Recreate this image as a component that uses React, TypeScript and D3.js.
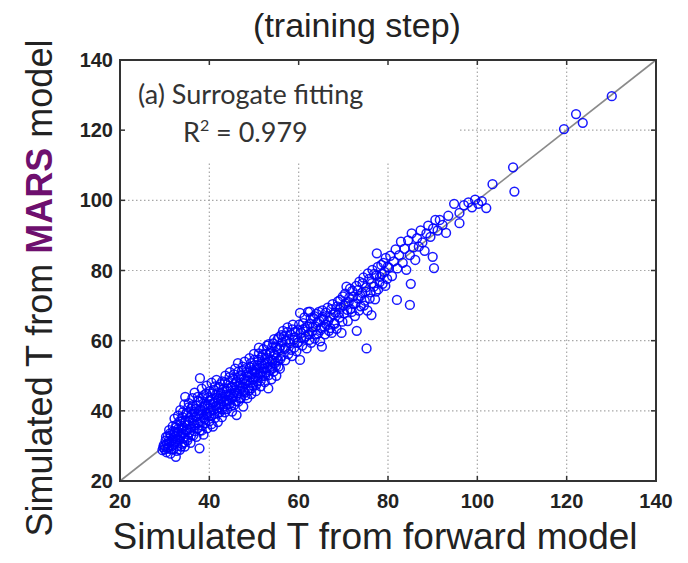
import React from "react";
import * as d3 from "d3";

// Axis ticks (same for both axes)
const tickValues = [20, 40, 60, 80, 100, 120, 140];
const gridValues = [40, 60, 80, 100, 120];

// Forward-model T vs. MARS-predicted T, dense low-temperature core
const coreSamples: [number, number][] = [
  [29.5, 28.8], [29.8, 30.2], [30.0, 29.0], [30.2, 31.5], [30.4, 28.2], [30.5, 30.6], [30.7, 32.8], [30.8, 29.6],
  [31.0, 34.5], [31.1, 31.0], [31.3, 27.8], [31.4, 33.0], [31.6, 30.0], [31.8, 35.6], [31.9, 32.2], [32.0, 29.1],
  [32.2, 37.8], [32.3, 34.0], [32.4, 31.2], [32.5, 26.9], [32.6, 36.0], [32.8, 33.1], [32.9, 30.0], [33.0, 38.6],
  [33.1, 35.0], [33.3, 31.8], [33.4, 28.9], [33.5, 40.2], [33.6, 36.9], [33.8, 33.6], [33.9, 30.6], [34.0, 38.2],
  [34.1, 35.2], [34.3, 32.4], [34.4, 41.8], [34.5, 29.8], [34.6, 44.0], [34.7, 37.1], [34.8, 34.3], [35.0, 39.5],
  [35.1, 31.6], [35.2, 36.0], [35.4, 42.2], [35.5, 33.8], [35.6, 38.0], [35.8, 30.9], [35.9, 40.6], [36.0, 35.4],
  [36.2, 43.6], [36.3, 37.2], [36.4, 33.0], [36.6, 39.8], [36.7, 45.2], [36.8, 35.9], [37.0, 41.5], [37.1, 32.6],
  [37.2, 38.4], [37.4, 44.0], [37.5, 36.5], [37.6, 40.0], [37.8, 29.3], [37.9, 49.3], [37.9, 34.4], [38.0, 42.6],
  [38.2, 38.9], [38.3, 46.3], [38.4, 35.8], [38.6, 40.8], [38.7, 33.2], [38.8, 44.5], [39.0, 37.6], [39.1, 42.0],
  [39.3, 39.4], [39.4, 47.2], [39.5, 35.0], [39.7, 43.8], [39.8, 40.6], [40.0, 37.0], [40.1, 45.6], [40.2, 41.8],
  [40.4, 38.6], [40.5, 48.0], [40.6, 43.2], [40.8, 35.5], [40.9, 40.2], [41.0, 46.0], [41.2, 42.5], [41.3, 38.0],
  [41.5, 44.6], [41.6, 48.8], [41.7, 40.8], [41.9, 36.8], [42.0, 43.4], [42.2, 46.8], [42.3, 39.6], [42.5, 42.0],
  [42.6, 45.0], [42.8, 38.2], [42.9, 48.4], [43.0, 44.0], [43.2, 41.2], [43.3, 46.4], [43.5, 39.6], [43.6, 50.0],
  [43.8, 43.0], [43.9, 45.6], [44.0, 40.5], [44.2, 48.0], [44.3, 44.4], [44.5, 42.0], [44.6, 51.0], [44.8, 46.6],
  [45.0, 43.4], [45.1, 39.8], [45.2, 49.2], [45.4, 45.0], [45.5, 41.6], [45.7, 47.6], [45.8, 52.0], [46.0, 44.2],
  [46.1, 38.8], [46.2, 46.8], [46.4, 53.6], [46.5, 42.6], [46.6, 49.6], [46.8, 45.6], [47.0, 48.0], [47.1, 43.8],
  [47.3, 51.4], [47.4, 46.6], [47.6, 41.2], [47.7, 49.2], [47.9, 54.0], [48.0, 45.2], [48.2, 47.8], [48.3, 51.0],
  [48.5, 43.6], [48.6, 49.8], [48.8, 46.4], [49.0, 55.0], [49.1, 52.4], [49.3, 48.0], [49.4, 44.8], [49.6, 50.6],
  [49.8, 47.2], [50.0, 56.2], [50.1, 53.0], [50.3, 49.4], [50.4, 45.6], [50.6, 51.8], [50.8, 48.4], [51.0, 54.6],
  [51.1, 58.0], [51.3, 50.6], [51.5, 47.0], [51.6, 53.4], [51.8, 49.8], [52.0, 56.0], [52.2, 52.0], [52.4, 48.2],
  [52.5, 54.8], [52.7, 51.0], [52.9, 58.6], [53.0, 53.6], [53.2, 46.4], [53.3, 50.2], [53.5, 56.4], [53.7, 52.6],
  [53.9, 49.0], [54.0, 58.0], [54.2, 54.2], [54.4, 51.2], [54.5, 60.4], [54.7, 55.8], [54.9, 52.8], [55.0, 50.0],
  [55.2, 57.4], [55.4, 54.4], [55.6, 61.0], [55.8, 52.0], [56.0, 58.6], [56.2, 55.6],
];

// Second batch of runs in the same low-temperature range
const coreSamplesB: [number, number][] = [
  [29.7, 29.6], [30.1, 30.0], [30.3, 32.6], [30.6, 29.2], [30.9, 31.4], [31.2, 33.6], [31.5, 29.0], [31.7, 31.6],
  [31.9, 34.2], [32.1, 30.4], [32.3, 32.8], [32.5, 35.2], [32.7, 28.6], [32.9, 31.8], [33.1, 34.0], [33.3, 37.0],
  [33.5, 32.6], [33.7, 29.8], [33.9, 35.6], [34.1, 39.6], [34.2, 33.6], [34.4, 31.0], [34.6, 36.6], [34.8, 39.2],
  [35.0, 34.6], [35.2, 32.4], [35.3, 41.0], [35.5, 37.2], [35.7, 35.0], [35.9, 33.0], [36.1, 39.0], [36.3, 41.6],
  [36.5, 36.4], [36.7, 34.2], [36.9, 38.2], [37.1, 40.6], [37.3, 35.0], [37.5, 42.8], [37.7, 39.0], [37.9, 37.0],
  [38.1, 40.2], [38.3, 34.4], [38.5, 43.6], [38.7, 38.0], [38.9, 41.4], [39.1, 36.4], [39.3, 45.0], [39.5, 39.0],
  [39.7, 41.8], [39.9, 38.4], [40.1, 43.0], [40.3, 40.0], [40.5, 36.2], [40.7, 45.0], [40.9, 42.2], [41.1, 39.2],
  [41.3, 47.0], [41.5, 41.4], [41.7, 43.8], [41.9, 39.4], [42.1, 45.2], [42.3, 41.0], [42.5, 47.6], [42.7, 43.4],
  [42.9, 40.4], [43.1, 45.4], [43.3, 42.6], [43.5, 48.2], [43.7, 44.6], [43.9, 41.8], [44.1, 46.4], [44.3, 43.0],
  [44.5, 49.6], [44.7, 44.8], [44.9, 41.4], [45.1, 47.0], [45.3, 44.0], [45.5, 50.4], [45.7, 45.8], [45.9, 42.8],
  [46.1, 48.4], [46.3, 45.0], [46.5, 51.2], [46.7, 47.2], [46.9, 43.6], [47.1, 50.0], [47.3, 47.0], [47.5, 52.6],
  [47.7, 45.6], [47.9, 48.6], [48.1, 44.4], [48.3, 52.2], [48.5, 48.6], [48.7, 50.8], [48.9, 45.8], [49.1, 49.6],
  [49.3, 53.6], [49.5, 46.4], [49.7, 51.6], [49.9, 49.0], [50.1, 54.6], [50.3, 51.0], [50.5, 47.4], [50.7, 53.0],
  [50.9, 50.2], [51.1, 56.4], [51.3, 52.2], [51.5, 48.6], [51.7, 55.2], [51.9, 51.2], [52.1, 57.6], [52.3, 53.4],
  [52.5, 50.0], [52.7, 56.2], [52.9, 52.2], [53.1, 55.0], [53.3, 59.0], [53.5, 51.6], [53.7, 57.0], [53.9, 54.6],
  [54.1, 52.0], [54.3, 59.2], [54.5, 56.2], [54.7, 53.6], [54.9, 58.4], [55.1, 55.2], [55.3, 60.4], [55.5, 52.6],
  [55.7, 57.8], [55.9, 54.8], [56.1, 61.6],
];

// Middle range of the fit
const midSamples: [number, number][] = [
  [56.5, 62.8], [56.8, 57.6], [57.0, 54.4], [57.2, 60.0], [57.5, 63.8], [57.7, 56.2], [58.0, 59.2], [58.2, 61.8],
  [58.5, 55.6], [58.7, 64.6], [59.0, 58.0], [59.2, 61.0], [59.5, 57.0], [59.8, 63.0], [60.0, 59.6], [60.3, 54.5],
  [60.3, 67.9], [60.5, 62.2], [60.8, 58.6], [61.0, 65.0], [61.2, 60.6], [61.5, 63.6], [61.8, 57.8], [62.1, 68.2],
  [62.2, 61.8], [62.5, 68.3], [62.5, 64.8], [62.8, 59.4], [63.0, 62.6], [63.3, 66.4], [63.6, 60.6], [63.8, 64.0],
  [64.0, 67.6], [64.3, 62.0], [64.6, 65.6], [64.8, 59.8], [65.0, 63.6], [65.2, 58.3], [65.3, 68.6], [65.6, 66.0],
  [65.9, 61.8], [66.2, 64.6], [66.5, 69.4], [66.8, 62.8], [67.0, 66.6], [67.4, 62.2], [67.6, 70.4], [67.9, 65.0],
  [68.2, 68.0], [68.5, 63.4], [68.8, 71.2], [69.1, 66.6], [69.4, 69.4], [69.6, 62.2], [69.9, 72.6], [70.2, 67.8],
  [70.5, 70.6], [70.7, 75.4], [71.0, 65.6], [71.3, 72.2], [71.6, 69.0], [72.0, 74.2], [72.3, 70.4], [72.6, 67.0],
  [72.9, 75.6], [73.0, 62.8], [73.3, 72.0], [73.6, 76.8], [73.9, 69.8], [74.2, 73.6], [74.5, 78.0], [74.8, 71.4],
  [75.2, 57.8], [75.1, 75.2], [75.4, 68.6], [75.8, 77.6], [76.1, 73.8], [76.3, 67.3], [76.5, 80.2], [76.8, 75.4],
  [77.1, 71.8], [77.5, 84.9], [77.4, 78.6], [77.8, 74.6], [78.2, 78.2], [78.5, 81.6], [78.8, 76.2], [79.2, 79.6],
  [79.5, 83.6], [79.8, 77.6], [80.2, 80.8],
];

// Second batch in the middle range
const midSamplesB: [number, number][] = [
  [56.4, 59.6], [56.7, 61.2], [57.1, 58.0], [57.4, 62.4], [57.9, 60.4], [58.3, 57.4], [58.6, 63.2], [58.9, 60.2],
  [59.3, 62.6], [59.7, 59.4], [60.1, 64.6], [60.6, 60.8], [60.9, 63.2], [61.3, 66.6], [61.6, 61.2], [62.0, 64.0],
  [62.4, 60.2], [62.7, 66.4], [63.1, 63.8], [63.5, 67.0], [63.9, 61.8], [64.2, 65.2], [64.5, 68.2], [64.9, 63.0],
  [65.4, 66.8], [65.8, 64.0], [66.1, 68.0], [66.6, 65.6], [67.1, 63.6], [67.3, 69.0], [67.8, 67.4], [68.1, 64.8],
  [68.6, 69.8], [69.0, 68.0], [69.3, 71.6], [69.8, 65.4], [70.1, 70.0], [70.4, 73.4], [70.9, 68.8], [71.2, 71.0],
  [71.5, 74.8], [71.9, 68.2], [72.2, 72.6], [72.7, 70.6], [73.2, 74.4], [73.5, 68.6], [73.8, 72.8], [74.3, 76.4],
  [74.6, 70.0], [75.0, 74.0], [75.5, 79.2], [75.9, 72.0], [76.4, 76.4], [76.9, 79.0], [77.3, 74.0], [77.7, 81.0],
  [78.1, 76.6], [78.6, 79.0], [79.0, 82.2], [79.4, 75.6], [79.9, 81.0],
];

// Upper tail and sparse high-temperature points
const upperSamples: [number, number][] = [
  [80.5, 84.2], [80.9, 78.4], [81.3, 82.6], [81.7, 86.0], [82.0, 71.6], [82.1, 80.6], [82.5, 84.4], [82.9, 88.2],
  [83.3, 82.2], [83.7, 86.2], [84.1, 80.2], [84.5, 88.6], [84.9, 70.2], [84.9, 84.4], [85.1, 76.2], [85.3, 90.6],
  [85.7, 86.6], [86.1, 83.0], [86.5, 89.2], [86.9, 86.8], [87.3, 91.4], [87.7, 88.0], [88.2, 85.6], [88.6, 90.6],
  [89.0, 92.8], [89.5, 89.6], [90.0, 83.9], [90.3, 80.7], [90.1, 92.0], [90.6, 94.4], [91.1, 91.4], [91.6, 94.4],
  [92.2, 93.0], [93.0, 90.7], [93.5, 95.6], [94.8, 99.0], [96.0, 96.4], [96.0, 93.5], [97.0, 98.6], [98.0, 99.4],
  [98.8, 98.0], [99.5, 100.2], [100.2, 99.0], [101.0, 99.8], [102.0, 97.8], [103.4, 104.6], [108.0, 109.4],
  [108.3, 102.5], [119.4, 120.3], [122.1, 124.6], [123.6, 122.1], [130.1, 129.7],
];

const samples = [...coreSamples, ...coreSamplesB, ...midSamples, ...midSamplesB, ...upperSamples];

export default function App() {
  const width = 688;
  const height = 563;
  const x = d3.scaleLinear().domain([20, 140]).range([120, 656]);
  const y = d3.scaleLinear().domain([20, 140]).range([481, 60]);
  const [x0, x1] = x.range();
  const [y0, y1] = y.range();
  const tickLen = 5;
  const tickFont = "'Liberation Sans', Arial, sans-serif";

  return (
    <svg
      width={width}
      height={height}
      style={{ position: "absolute", left: 0, top: 0, background: "#fff" }}
      fontFamily={tickFont}
    >
      {/* dotted grid */}
      <g stroke="#a8a8a8" strokeWidth={1.2} strokeDasharray="1.5,2.5">
        {gridValues.map((v) => (
          <line key={"gx" + v} x1={x(v)} x2={x(v)} y1={y0} y2={y1} />
        ))}
        {gridValues.map((v) => (
          <line key={"gy" + v} x1={x0} x2={x1} y1={y(v)} y2={y(v)} />
        ))}
      </g>

      {/* annotation box background */}
      <rect x={x0 + 1} y={y1 + 1} width={457 - x0} height={160 - y1} fill="#fff" />
      <text x={138} y={104} fontFamily="Lato, 'Open Sans', sans-serif" fontSize={27} fill="#333">
        (a) Surrogate fitting
      </text>
      <text x={183} y={142} fontFamily="Lato, 'Open Sans', sans-serif" fontSize={27} fill="#333">
        R<tspan dy={-11} fontSize={16}>2</tspan>
        <tspan dy={11}> = 0.979</tspan>
      </text>

      {/* 1:1 line */}
      <line x1={x(20)} y1={y(20)} x2={x(140)} y2={y(140)} stroke="#8a8a8a" strokeWidth={1.6} />

      {/* scatter */}
      <g fill="none" stroke="#0000ff" strokeWidth={1.5} strokeOpacity={0.9}>
        {samples.map(([a, b], i) => (
          <circle key={i} cx={x(a)} cy={y(b)} r={4.4} />
        ))}
      </g>

      {/* frame and ticks */}
      <rect x={x0} y={y1} width={x1 - x0} height={y0 - y1} fill="none" stroke="#333" strokeWidth={2} />
      <g stroke="#333" strokeWidth={1.5}>
        {tickValues.slice(1, -1).map((v) => (
          <g key={"t" + v}>
            <line x1={x(v)} x2={x(v)} y1={y0} y2={y0 - tickLen} />
            <line x1={x(v)} x2={x(v)} y1={y1} y2={y1 + tickLen} />
            <line x1={x0} x2={x0 + tickLen} y1={y(v)} y2={y(v)} />
            <line x1={x1} x2={x1 - tickLen} y1={y(v)} y2={y(v)} />
          </g>
        ))}
      </g>

      {/* tick labels */}
      <g fontSize={20} fontWeight="bold" fill="#222">
        {tickValues.map((v) => (
          <text key={"xl" + v} x={x(v)} y={508} textAnchor="middle">
            {v}
          </text>
        ))}
        {tickValues.map((v) => (
          <text key={"yl" + v} x={113} y={y(v) + 7} textAnchor="end">
            {v}
          </text>
        ))}
      </g>

      {/* titles */}
      <text x={357} y={37} textAnchor="middle" fontSize={34} fill="#222">
        (training step)
      </text>
      <text x={375} y={549} textAnchor="middle" fontSize={37} fill="#222">
        Simulated T from forward model
      </text>
      <text
        transform="translate(52,288) rotate(-90)"
        textAnchor="middle"
        fontSize={36}
        fill="#222"
      >
        Simulated T from <tspan fontWeight="bold" fill="#6e0f6e">MARS</tspan> model
      </text>
    </svg>
  );
}
